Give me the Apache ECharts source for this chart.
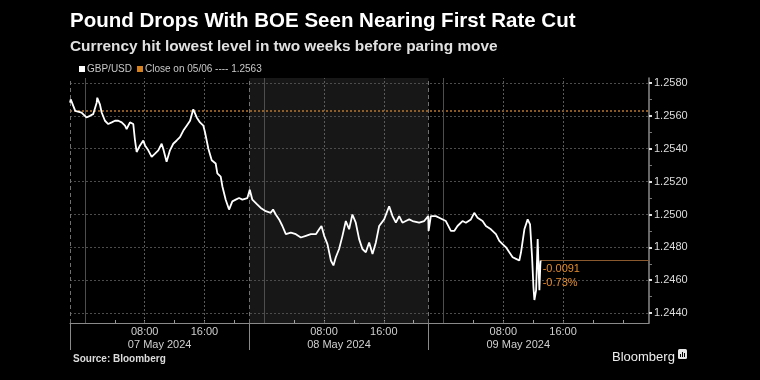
<!DOCTYPE html>
<html>
<head>
<meta charset="utf-8">
<script src="https://cdn.jsdelivr.net/npm/echarts@6/dist/echarts.min.js"></script>
<style>
html,body{margin:0;padding:0;background:#000;}
#chart{width:760px;height:380px;}
</style>
</head>
<body>
<div id="chart"></div>
<script>
// Hours since 07 May 2024 00:00 (London time)
const hours = [
  -2.0,-1.9,-1.3,-0.45,0.2,0.67,1.1,1.57,1.65,2.0,2.24,2.68,3.12,3.58,4.02,4.46,4.92,5.36,5.58,6.03,
  6.47,6.7,6.92,7.37,7.81,8.04,8.48,8.93,9.38,9.82,10.27,10.48,10.93,11.38,11.82,12.28,12.72,13.17,13.62,14.07,
  14.5,14.96,15.4,15.85,16.07,16.52,16.97,17.5,17.72,18.17,18.4,18.84,19.29,19.73,20.18,20.63,21.07,21.74,22.06,22.41,
  23.08,23.53,24.2,24.87,25.18,25.54,25.99,26.43,26.89,27.56,28.23,28.9,29.57,30.24,30.91,31.35,31.66,32.02,32.46,32.92,
  33.26,33.58,34.02,34.47,34.92,35.36,35.8,36.25,36.7,37.14,37.6,38.04,38.49,38.94,39.38,40.05,40.72,41.17,41.62,42.06,
  42.5,42.95,43.4,43.85,44.74,45.41,45.95,46.0,46.3,46.97,47.42,48.31,48.98,49.43,49.87,50.54,50.99,51.66,52.11,52.55,
  53.22,53.67,54.34,55.01,55.46,55.9,56.36,56.8,57.25,57.7,58.14,58.37,58.82,59.26,59.58,59.85,60.03,60.16,60.39,60.6,
  60.73,60.83,60.96,61.0
];
const gbpusd = [
  1.2568,1.2570,1.2563,1.2562,1.2559,1.2560,1.2561,1.2568,1.2571,1.2567,1.2562,1.2557,1.2555,1.2556,1.2557,1.2557,1.2556,1.2554,1.2552,1.2556,
  1.2555,1.2545,1.2538,1.2542,1.2545,1.2542,1.2539,1.2535,1.2537,1.2539,1.2543,1.2540,1.2532,1.2539,1.2543,1.2545,1.2547,1.2551,1.2554,1.2557,
  1.2564,1.2559,1.2556,1.2554,1.2550,1.2540,1.2533,1.2531,1.2525,1.2523,1.2517,1.2509,1.2503,1.2508,1.2509,1.2510,1.2509,1.2510,1.2515,1.2509,
  1.2506,1.2504,1.2502,1.2501,1.2503,1.2500,1.2497,1.2493,1.2488,1.2489,1.2488,1.2486,1.2487,1.2488,1.2488,1.2491,1.2493,1.2487,1.2482,1.2472,
  1.2469,1.2474,1.2479,1.2487,1.2496,1.2491,1.2500,1.2495,1.2485,1.2479,1.2477,1.2483,1.2476,1.2483,1.2493,1.2497,1.2505,1.2499,1.2495,1.2499,
  1.2495,1.2496,1.2497,1.2496,1.2495,1.2496,1.2499,1.2490,1.2499,1.2499,1.2498,1.2496,1.2490,1.2490,1.2493,1.2496,1.2495,1.2497,1.2501,1.2498,
  1.2496,1.2493,1.2491,1.2488,1.2484,1.2482,1.2480,1.2477,1.2474,1.2473,1.2472,1.2477,1.2491,1.2497,1.2494,1.2474,1.2456,1.2448,1.2454,1.2485,
  1.2466,1.2454,1.2470,1.2472
];
const closeValue = 1.2563;
const changeLabel = '-0.0091';
const pctLabel = '-0.73%';
const xMin = -2, xMax = 75.5;
const yMin = 1.2434, yMax = 1.2583;
const yTicks = [1.2440,1.2460,1.2480,1.2500,1.2520,1.2540,1.2560,1.2580];
const yMinorTicks = [1.2450,1.2470,1.2490,1.2510,1.2530,1.2550,1.2570];
const xTickHours = [0,4,8,12,16,20,24,28,32,36,40,44,48,52,56,60,64,68,72];
const timeLabelHours = [8,16,32,40,56,64];
const dayLabelHours = [10,34,58];
const dayLabels = ['07 May 2024','08 May 2024','09 May 2024'];
const daySeparatorHours = [-2,22,46];
const midnightHours = [0,24,48];
const shadedDay = [22,46];

const FONT = '"Liberation Sans", Arial, sans-serif';
const lineData = hours.map((h,i)=>[h,gbpusd[i]]);
const lastHour = hours[hours.length-1];
const lastValue = gbpusd[gbpusd.length-1];

const gridLines = [];
yTicks.forEach(v=>gridLines.push({yAxis:v,lineStyle:{color:'#4c4c4c',type:[2,2],width:1}}));
timeLabelHours.forEach(h=>gridLines.push({xAxis:h,lineStyle:{color:'#5a5a5a',type:[2,2],width:1}}));
daySeparatorHours.forEach(h=>gridLines.push({xAxis:h,lineStyle:{color:'#707070',type:[4,3],width:1}}));
midnightHours.forEach(h=>gridLines.push({xAxis:h,lineStyle:{color:'#4e4e4e',type:'solid',width:1}}));

const annotation = [[
  {coord:[lastHour,lastValue],lineStyle:{color:'#8a5a2e',type:'solid',width:1},
   label:{show:true,position:'insideStartBottom',distance:[2,1],formatter:changeLabel+'\n'+pctLabel,
          color:'#e38b2c',fontSize:11,fontFamily:FONT,lineHeight:14,align:'left'}},
  {coord:[xMax,lastValue]}
]];

const chart = echarts.init(document.getElementById('chart'),null,{renderer:'canvas'});
chart.setOption({
  backgroundColor:'#000',
  animation:false,
  title:[
    {text:'Pound Drops With BOE Seen Nearing First Rate Cut',left:70,top:11,padding:0,
     textStyle:{color:'#fff',fontSize:20.5,fontWeight:'bold',fontFamily:FONT}},
    {text:'Currency hit lowest level in two weeks before paring move',left:70,top:39,padding:0,
     textStyle:{color:'#e0e0e0',fontSize:15.4,fontWeight:'bold',fontFamily:FONT}},
    {text:'Source: Bloomberg',left:73,top:354,padding:0,
     textStyle:{color:'#dcdcdc',fontSize:10,fontWeight:'bold',fontFamily:FONT}},
    {text:'Bloomberg',left:612,top:351,padding:0,
     textStyle:{color:'#eee',fontSize:13,fontWeight:'normal',fontFamily:FONT}}
  ],
  legend:{
    left:79,top:64,padding:0,itemWidth:6,itemHeight:6,itemGap:5,icon:'rect',
    textStyle:{color:'#c8c8c8',fontSize:10,fontFamily:FONT,padding:[0,0,0,-3]},
    data:['GBP/USD','Close on 05/06 ---- 1.2563']
  },
  grid:{left:70,right:111,top:78,bottom:57},
  xAxis:[
    {type:'value',min:xMin,max:xMax,position:'bottom',
     axisLine:{show:true,onZero:false,lineStyle:{color:'#8a8a8a',width:1}},
     axisTick:{show:true,inside:true,length:3,customValues:xTickHours,lineStyle:{color:'#9a9a9a'}},
     axisLabel:{show:true,customValues:timeLabelHours,margin:3,color:'#cfcfcf',fontSize:11,fontFamily:FONT,
       formatter:v=>String(((Math.round(v)%24)+24)%24).padStart(2,'0')+':00'},
     splitLine:{show:false}},
    {type:'value',min:xMin,max:xMax,position:'bottom',
     axisLine:{show:false,onZero:false},
     axisTick:{show:true,length:27,customValues:daySeparatorHours,lineStyle:{color:'#8a8a8a'}},
     axisLabel:{show:true,customValues:dayLabelHours,margin:16,color:'#cfcfcf',fontSize:11,fontFamily:FONT,
       formatter:v=>dayLabels[dayLabelHours.indexOf(Math.round(v))]},
     splitLine:{show:false}}
  ],
  yAxis:[
    {type:'value',position:'right',min:yMin,max:yMax,
     axisLine:{show:true,onZero:false,lineStyle:{color:'#8a8a8a',width:1.5}},
     axisTick:{show:true,length:3,customValues:yTicks,lineStyle:{color:'#e0e0e0',width:2}},
     axisLabel:{show:true,customValues:yTicks,margin:5,color:'#dcdcdc',fontSize:11,fontFamily:FONT,
       formatter:v=>v.toFixed(4)},
     splitLine:{show:false}},
    {type:'value',position:'right',min:yMin,max:yMax,
     axisLine:{show:false,onZero:false},
     axisTick:{show:true,length:3,customValues:yMinorTicks,lineStyle:{color:'#777'}},
     axisLabel:{show:false},splitLine:{show:false}}
  ],
  series:[
    {name:'GBP/USD',type:'line',data:lineData,xAxisIndex:0,yAxisIndex:0,
     showSymbol:false,symbol:'none',color:'#ffffff',z:5,
     lineStyle:{color:'#ffffff',width:1.8},
     markArea:{silent:true,itemStyle:{color:'rgba(255,255,255,0.09)'},
       data:[[{xAxis:shadedDay[0]},{xAxis:shadedDay[1]}]]},
     markLine:{silent:true,precision:4,symbol:['none','none'],label:{show:false},
       lineStyle:{width:1},data:annotation}
    },
    {name:'grid',type:'line',data:[],xAxisIndex:0,yAxisIndex:0,z:1,silent:true,
     markLine:{silent:true,precision:4,symbol:['none','none'],label:{show:false},
       lineStyle:{width:1},data:gridLines}
    },
    {name:'Close on 05/06 ---- 1.2563',type:'line',xAxisIndex:0,yAxisIndex:0,
     data:[[xMin,closeValue],[xMax,closeValue]],showSymbol:false,symbol:'none',
     color:'#d4801f',z:3,lineStyle:{color:'#b7762f',width:1.5,type:[2,2]}}
  ],
  graphic:[
    {type:'group',left:678,top:349,children:[
      {type:'rect',shape:{x:0,y:0,width:9,height:10,r:1.5},style:{fill:'#e6e6e6'}},
      {type:'rect',shape:{x:2,y:5,width:1,height:3},style:{fill:'#000'}},
      {type:'rect',shape:{x:4,y:3,width:1,height:5},style:{fill:'#000'}},
      {type:'rect',shape:{x:6,y:4,width:1,height:4},style:{fill:'#000'}}
    ]}
  ]
});
</script>
</body>
</html>
